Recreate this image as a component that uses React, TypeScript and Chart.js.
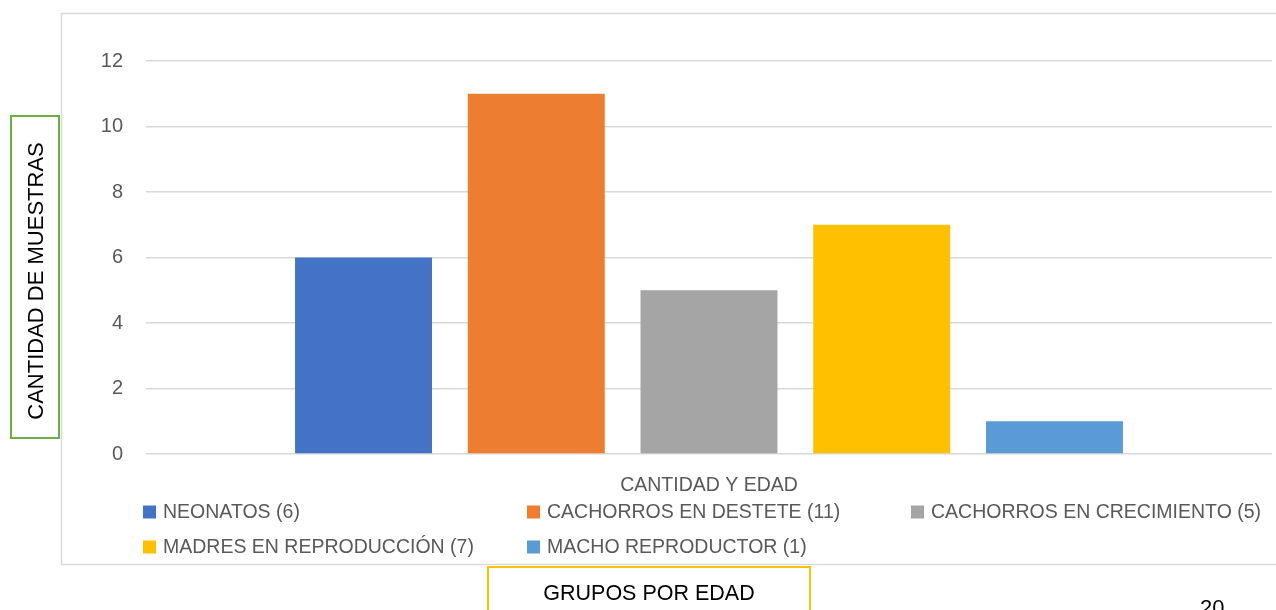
import { useEffect, useRef } from "react";
import { Chart, registerables } from "chart.js";

Chart.register(...registerables);

// Data
const categories = ["CANTIDAD Y EDAD"];
const groupNames = [
  "NEONATOS",
  "CACHORROS EN DESTETE",
  "CACHORROS EN CRECIMIENTO",
  "MADRES EN REPRODUCCIÓN",
  "MACHO REPRODUCTOR",
];
const groupCounts = [6, 11, 5, 7, 1];
const groupColors = ["#4472C4", "#ED7D31", "#A5A5A5", "#FFC000", "#5B9BD5"];
const yTickMin = 0;
const yTickMax = 12;
const yTickStep = 2;
const yAxisTitle = "CANTIDAD DE MUESTRAS";
const xAxisTitle = "GRUPOS POR EDAD";
const pageNumber = "20";

const W = 1276;
const H = 610;
const FONT = "'Liberation Sans', Arial, sans-serif";
const TEXT_GREY = "#595959";
const GRID_GREY = "#D9D9D9";

// Frame, boxed titles, legend and page number drawn around the plot
const decorations = {
  id: "decorations",
  beforeDraw(chart: any) {
    const ctx = chart.ctx;
    ctx.save();
    ctx.fillStyle = "#ffffff";
    ctx.fillRect(0, 0, W, H);
    // chart frame
    ctx.strokeStyle = GRID_GREY;
    ctx.lineWidth = 1.5;
    ctx.strokeRect(61.5, 13.5, W + 10, 551);
    ctx.restore();
  },
  afterDraw(chart: any) {
    const ctx = chart.ctx;
    ctx.save();

    // legend: three columns, two rows
    const colX = [143, 527, 911];
    const rowY = [512, 547];
    ctx.font = `19.5px ${FONT}`;
    ctx.textBaseline = "middle";
    ctx.textAlign = "left";
    chart.data.datasets.forEach((ds: any, i: number) => {
      const x = colX[i % 3];
      const y = rowY[Math.floor(i / 3)];
      ctx.fillStyle = ds.backgroundColor;
      ctx.fillRect(x, y - 6.5, 13, 13);
      ctx.fillStyle = TEXT_GREY;
      ctx.fillText(ds.label, x + 20, y + 1);
    });

    // y title box
    ctx.strokeStyle = "#70AD47";
    ctx.lineWidth = 2;
    ctx.strokeRect(11, 116, 48, 322);
    ctx.save();
    ctx.translate(36, 281);
    ctx.rotate(-Math.PI / 2);
    ctx.font = `22px ${FONT}`;
    ctx.fillStyle = "#000000";
    ctx.textAlign = "center";
    ctx.textBaseline = "middle";
    ctx.fillText(yAxisTitle, 0, 1);
    ctx.restore();

    // x title box
    ctx.fillStyle = "#ffffff";
    ctx.fillRect(487, 565, 324, 50);
    ctx.strokeStyle = "#FFC000";
    ctx.lineWidth = 2;
    ctx.strokeRect(488, 567, 322, 60);
    ctx.font = `21.5px ${FONT}`;
    ctx.fillStyle = "#000000";
    ctx.textAlign = "center";
    ctx.textBaseline = "middle";
    ctx.fillText(xAxisTitle, 649, 594);

    // page number
    ctx.font = `22px ${FONT}`;
    ctx.textAlign = "left";
    ctx.textBaseline = "alphabetic";
    ctx.fillText(pageNumber, 1200, 615);

    ctx.restore();
  },
};

export default function App() {
  const canvasRef = useRef<HTMLCanvasElement | null>(null);

  useEffect(() => {
    if (!canvasRef.current) return;
    const chart = new Chart(canvasRef.current, {
      type: "bar",
      data: {
        labels: categories,
        datasets: groupNames.map((name, i) => ({
          label: `${name} (${groupCounts[i]})`,
          data: [groupCounts[i]],
          backgroundColor: groupColors[i],
          borderWidth: 0,
          categoryPercentage: 0.767,
          barPercentage: 0.793,
        })),
      },
      options: {
        responsive: false,
        animation: false,
        devicePixelRatio: 1,
        layout: { padding: { left: 0, right: 4, top: 61, bottom: 106 } },
        plugins: {
          legend: { display: false },
          tooltip: { enabled: false },
        },
        scales: {
          x: {
            grid: { display: false, drawTicks: false },
            border: { display: false },
            ticks: {
              color: TEXT_GREY,
              font: { family: FONT, size: 19.5 },
              padding: 20,
            },
            afterFit(scale: any) {
              scale.height = 50;
            },
          },
          y: {
            min: yTickMin,
            max: yTickMax,
            grid: { color: GRID_GREY, lineWidth: 1.5, drawTicks: false },
            border: { display: false },
            ticks: {
              stepSize: yTickStep,
              color: TEXT_GREY,
              font: { family: FONT, size: 20 },
              padding: 23,
            },
            afterFit(scale: any) {
              scale.width = 146;
            },
          },
        },
      },
      plugins: [decorations],
    });
    return () => chart.destroy();
  }, []);

  return (
    <div
      style={{
        position: "fixed",
        left: 0,
        top: 0,
        width: W,
        height: H,
        background: "#ffffff",
        overflow: "hidden",
      }}
    >
      <canvas ref={canvasRef} width={W} height={H} style={{ display: "block" }} />
    </div>
  );
}
